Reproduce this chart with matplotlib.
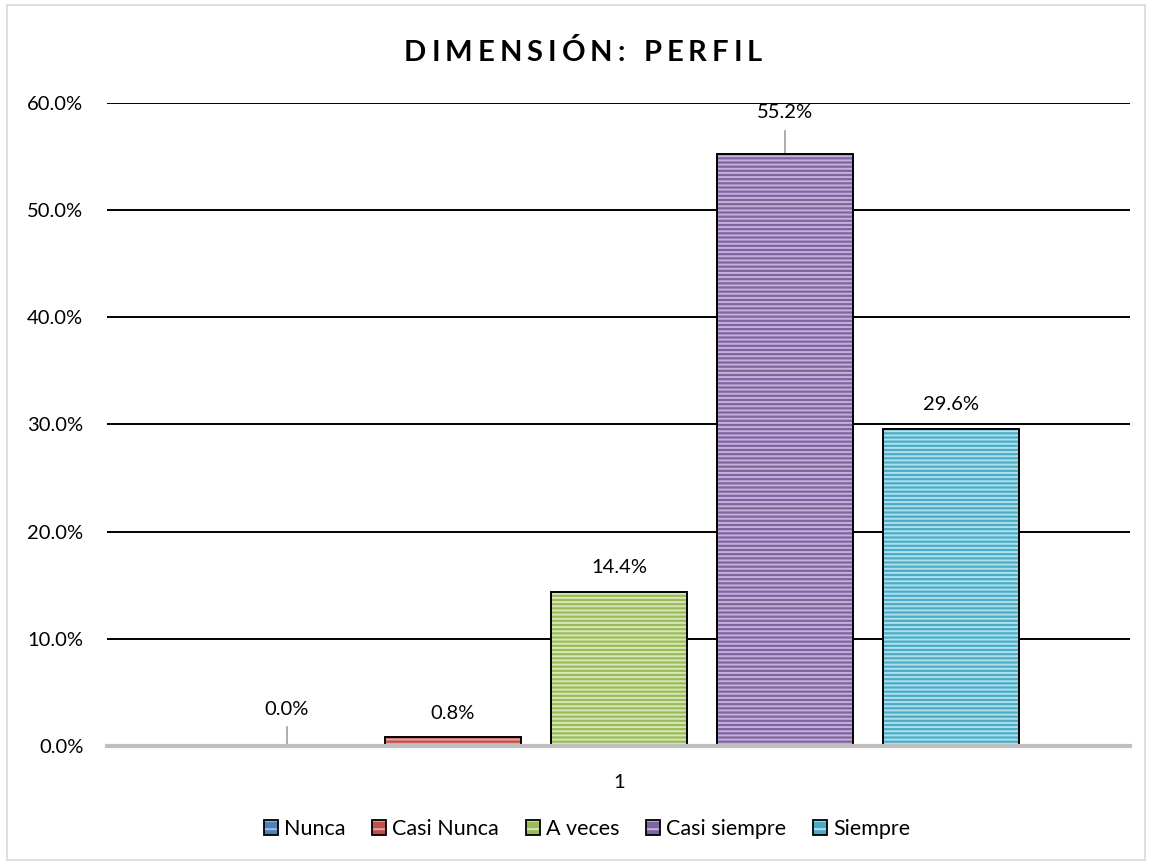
import matplotlib
matplotlib.use("Agg")
import matplotlib.pyplot as plt
from matplotlib.patches import Patch, Rectangle
from matplotlib.ticker import FuncFormatter
from matplotlib.legend_handler import HandlerTuple

plt.rcParams['font.family'] = ['Lato', 'DejaVu Sans']
plt.rcParams['hatch.linewidth'] = 1.4

title = "DIMENSIÓN: PERFIL"
category = "1"
series = ["Nunca", "Casi Nunca", "A veces", "Casi siempre", "Siempre"]
values = [0.0, 0.8, 14.4, 55.2, 29.6]
colors = ["#4F81BD", "#C0504D", "#9BBB59", "#8064A2", "#4BACC6"]
stripe_colors = ["#A7C0E0", "#E8A4A2", "#D8E7BA", "#C4B3D9", "#B0E0EC"]
yticks = [0, 10, 20, 30, 40, 50, 60]

fig = plt.figure(figsize=(11.52, 8.66), dpi=100)
fig.patches.append(Rectangle((7/1152, 6/866), 1138/1152, 855/866, transform=fig.transFigure,
                             fill=False, edgecolor="#D9D9D9", linewidth=1.2))
ax = fig.add_axes([107/1152, 120/866, 1023/1152, 643/866])

n = len(series)
positions = [i - (n - 1) / 2 for i in range(n)]
width = 136 / 166

# labels that were dragged away from their default spot (with leader lines)
moved = {"Nunca": (3.36, 1.77), "Casi siempre": (3.9, 2.15)}

for name, x, v, c, sc in zip(series, positions, values, colors, stripe_colors):
    if v > 0:
        ax.bar(x, v, width=width, color=c, edgecolor=sc, hatch="----", linewidth=0, zorder=3)
        ax.bar(x, v, width=width, fill=False, edgecolor="black", linewidth=1.4, zorder=4)
    if name in moved:
        off, lead = moved[name]
        ax.plot([x, x], [v, v + lead], color="#A6A6A6", linewidth=1.3, zorder=2)
    else:
        off = 2.24
    ax.text(x, v + off, f"{v:.1f}%", ha="center", va="center", fontsize=14.5,
            color="#000000", zorder=5)

ax.set_ylim(0, 60)
ax.set_xlim(-3.084, 3.078)
ax.set_yticks(yticks)
ax.yaxis.set_major_formatter(FuncFormatter(lambda v, p: f"{v:.1f}%"))
ax.tick_params(axis='y', length=0, labelsize=14.5, pad=17)
ax.set_xticks([0])
ax.set_xticklabels([category])
ax.tick_params(axis='x', length=0, labelsize=14.5, pad=20)
ax.grid(axis='y', color='black', linewidth=1.4, zorder=1)
for s in ["top", "right", "left"]:
    ax.spines[s].set_visible(False)
ax.spines["bottom"].set_color("#BFBFBF")
ax.spines["bottom"].set_linewidth(3)
ax.spines["bottom"].set_zorder(6)

# legend
handles = []
for c, sc in zip(colors, stripe_colors):
    handles.append((Patch(facecolor=c, edgecolor=sc, hatch="--", linewidth=0),
                    Patch(fill=False, edgecolor="black", linewidth=1.3)))
fig.legend(handles, series, loc="center", bbox_to_anchor=(587/1152, 1 - 829/866), ncol=n,
           frameon=False, fontsize=15.5, handlelength=0.65, handleheight=0.65, handletextpad=0.28,
           columnspacing=1.25, handler_map={tuple: HandlerTuple(ndivide=1)})

# title with letter spacing
renderer = fig.canvas.get_renderer()
tprops = dict(fontsize=21, fontweight="bold", color="black")
widths = []
for ch in title:
    t = fig.text(0, 0, ch if ch != " " else "n", **tprops)
    w = t.get_window_extent(renderer).width
    widths.append(w * (0.5 if ch == " " else 1.0))
    t.remove()
spacing = 5.0
total = sum(widths) + spacing * (len(title) - 1)
xcur = 583 - total / 2
for ch, w in zip(title, widths):
    if ch != " ":
        fig.text(xcur / 1152, 1 - 61 / 866, ch, ha="left", va="baseline", **tprops)
    xcur += w + spacing

fig.savefig("out.png", dpi=100)
